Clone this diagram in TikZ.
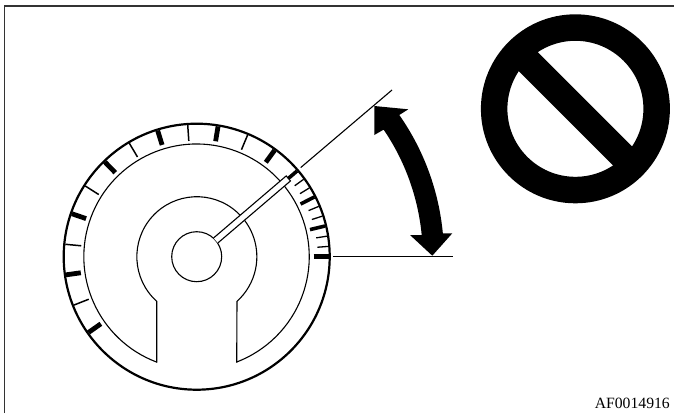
\documentclass[tikz,border=0pt]{standalone}
\usepackage{fontspec}
\setmainfont{Liberation Serif}
\usepackage{xcolor}
\usetikzlibrary{calc}
\tikzset{
  frameline/.style={line width=1.5pt, black!80},
  thinline/.style={line width=1.1pt, black},
  dialrim/.style={line width=2.2pt, black},
  minortick/.style={line width=1.5pt, black},
  majortick/.style={line width=4.8pt, black},
  finetick/.style={line width=1.3pt, black},
  redmajor/.style={line width=3.6pt, black},
  partno/.style={font=\fontsize{15.7}{16}\selectfont, anchor=base east, inner sep=0pt}
}
\begin{document}
\begin{tikzpicture}[x=1pt, y=-1pt]
  \useasboundingbox (0,0) rectangle (674,413);
  % frame
  \draw[frameline] (4.5,413) -- (4.5,6) -- (674,6);
  % dial
  \coordinate (dial) at (196.7,256.7);
  \draw[thinline] (156.7,362.1) arc[start angle=110.7, end angle=429.3, radius=112.7];
  \draw[thinline] (156.7,362.7) -- (156.7,301.3) arc[start angle=132, end angle=408, radius=60] -- (236.7,362.7);
  \draw[thinline] (dial) circle[radius=25];
  % ticks
  \foreach \ang in {215,187.9,161,134.1,107.2,80.7,53.8,0}
    \draw[majortick] ($(dial)+(\ang:117 and -117)$) -- ($(dial)+(\ang:132 and -132)$);
  \foreach \ang in {13.45,26.9}
    \draw[redmajor] ($(dial)+(\ang:116.5 and -116.5)$) -- ($(dial)+(\ang:132 and -132)$);
  \foreach \ang in {201.5,174.6,147.6,120.7,93.9,67.3}
    \draw[minortick] ($(dial)+(\ang:116 and -116)$) -- ($(dial)+(\ang:132 and -132)$);
  \foreach \ang in {4.48,8.96,17.9,22.4,31.4,35.9}
    \draw[finetick] ($(dial)+(\ang:121 and -121)$) -- ($(dial)+(\ang:132 and -132)$);
  \draw[dialrim] (dial) circle[radius=133];
  % needle
  \coordinate (tip) at ($(dial)+(40.5:120.5 and -120.5)$);
  \draw[redmajor] (tip) -- ($(dial)+(40.5:132 and -132)$);
  \draw[thinline, fill=white] ($(dial)+(40.5:25 and -25)+(130.5:3.3 and -3.3)$) -- ($(tip)+(130.5:3.3 and -3.3)$)
    -- ($(tip)+(-49.5:3.3 and -3.3)$) -- ($(dial)+(40.5:25 and -25)+(-49.5:3.3 and -3.3)$);
  % angle limits
  \draw[thinline] ($(dial)+(40.6:137 and -137)$) -- (392,90);
  \draw[thinline] (333,256.7) -- (453,256.7);
  % curved double arrow
  \fill[black] (374.3,106) -- (408.3,109.3) -- (399.3,115)
    arc[start angle=-35, end angle=-5.4, radius=247] -- (452.3,233.3) -- (432.3,255.7) -- (410,235)
    -- (421.7,235) arc[start angle=-5.5, end angle=-34.2, radius=226] -- (374.3,135) -- cycle;
  % prohibition sign
  \coordinate (nosign) at (575.4,108.8);
  \fill[black, even odd rule] (nosign) circle[radius=94.5] (nosign) circle[radius=68];
  \draw[line width=27pt, black] ($(nosign)+(135:80 and -80)$) -- ($(nosign)+(-45:80 and -80)$);
  \node[partno] (partlabel) at (670,408) {AF0014916};
\end{tikzpicture}
\end{document}
